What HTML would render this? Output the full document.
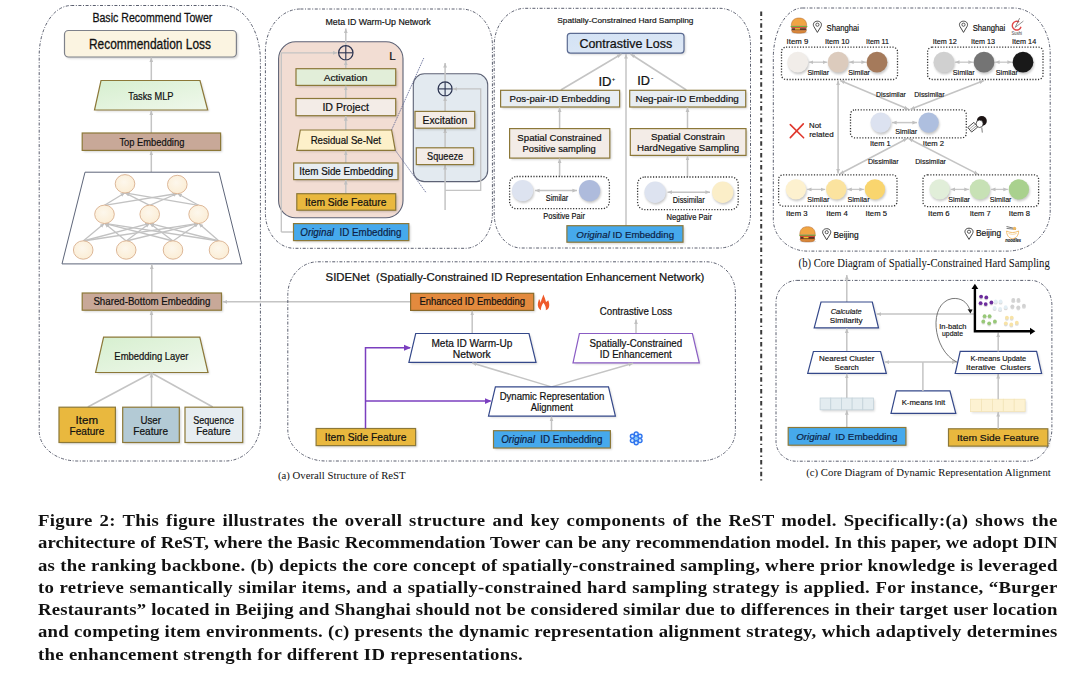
<!DOCTYPE html>
<html><head><meta charset="utf-8"><style>
html,body{margin:0;padding:0;background:#fff;width:1080px;height:678px;overflow:hidden;}
#fig{position:absolute;left:0;top:0;}
.cap{position:absolute;left:37.9px;width:1019.5px;font-family:"Liberation Serif",serif;font-weight:bold;font-size:17.3px;letter-spacing:1.0px;color:#111;text-align:justify;text-align-last:justify;white-space:nowrap;line-height:22.27px;}
.cap.last{text-align-last:left;}
</style></head><body>
<svg id="fig" width="1080" height="490" viewBox="0 0 1080 490">
<defs>
<filter id="blur" x="-20%" y="-20%" width="140%" height="140%"><feGaussianBlur stdDeviation="0.8"/></filter>
<marker id="ah" markerWidth="6" markerHeight="6" refX="4.6" refY="3" orient="auto" markerUnits="userSpaceOnUse"><path d="M0,1.1 L4.6,3 L0,4.9 Z" fill="#c0c0c0"/></marker>
<marker id="at" markerWidth="6" markerHeight="6" refX="1.4" refY="3" orient="auto" markerUnits="userSpaceOnUse"><path d="M6,1.1 L1.4,3 L6,4.9 Z" fill="#c0c0c0"/></marker>
<marker id="ap" markerWidth="8" markerHeight="8" refX="6" refY="4" orient="auto" markerUnits="userSpaceOnUse"><path d="M0,1 L7,4 L0,7 Z" fill="#7b3fbf"/></marker>
<linearGradient id="gGreen" x1="0" y1="0" x2="1" y2="1"><stop offset="0" stop-color="#d6efcf"/><stop offset="1" stop-color="#f0f8ec"/></linearGradient>
<linearGradient id="gBlue" x1="0" y1="0" x2="1" y2="1"><stop offset="0" stop-color="#d3e2f4"/><stop offset="1" stop-color="#dfe9f6"/></linearGradient>
<radialGradient id="gNode" cx="0.45" cy="0.4" r="0.7"><stop offset="0" stop-color="#fdf7ec"/><stop offset="1" stop-color="#fbecd2"/></radialGradient>
</defs>
<path d="M71.2,5.5 H223.4 A37,55 0 0 1 260.4,60.5 V423.0 A35,38 0 0 1 225.4,461.0 H77.2 A38,30 0 0 1 39.2,431.0 V55.5 A32,50 0 0 1 71.2,5.5 Z" fill="none" stroke="#5a5e6e" stroke-width="1.0" stroke-dasharray="3 1.6 1 1.6"/>
<text x="152.4" y="22.3" font-size="12.65" text-anchor="middle" fill="#111" font-family='"Liberation Sans", sans-serif' font-weight="normal" textLength="120.0" lengthAdjust="spacingAndGlyphs" stroke="#111" stroke-width="0.253" >Basic Recommend Tower</text>
<rect x="66.0" y="32.0" width="171.9" height="26.5" rx="4" fill="#000" opacity="0.18" filter="url(#blur)"/>
<rect x="64.5" y="30.5" width="171.9" height="26.5" rx="4" fill="#fbf4e1" stroke="#7e818a" stroke-width="1.2"/>
<text x="150.0" y="49.2" font-size="13.95" text-anchor="middle" fill="#111" font-family='"Liberation Sans", sans-serif' font-weight="normal" textLength="122.0" lengthAdjust="spacingAndGlyphs" stroke="#111" stroke-width="0.279" >Recommendation Loss</text>
<line x1="151.3" y1="80.5" x2="151.3" y2="57.5" stroke="#c4c4c4" stroke-width="1.5" marker-end="url(#ah)"/>
<polygon points="102.5,82.0 201.5,82.0 209.2,111.5 96.0,111.5" fill="#000" opacity="0.15" filter="url(#blur)"/>
<polygon points="101.0,80.5 200.0,80.5 207.7,110.0 94.5,110.0" fill="url(#gGreen)" stroke="#8c7838" stroke-width="1.2" stroke-linejoin="miter"/>
<text x="150.9" y="99.6" font-size="11.48" text-anchor="middle" fill="#111" font-family='"Liberation Sans", sans-serif' font-weight="normal" textLength="45.3" lengthAdjust="spacingAndGlyphs" stroke="#111" stroke-width="0.230" >Tasks MLP</text>
<line x1="151.3" y1="133.0" x2="151.3" y2="110.5" stroke="#c4c4c4" stroke-width="1.5" marker-end="url(#ah)"/>
<rect x="83.7" y="134.5" width="138.4" height="17.4" rx="0" fill="#000" opacity="0.18" filter="url(#blur)"/>
<rect x="82.2" y="133.0" width="138.4" height="17.4" rx="0" fill="#c8a898" stroke="#8c7838" stroke-width="1.2"/>
<text x="151.9" y="145.7" font-size="11.48" text-anchor="middle" fill="#111" font-family='"Liberation Sans", sans-serif' font-weight="normal" textLength="64.9" lengthAdjust="spacingAndGlyphs" stroke="#111" stroke-width="0.230" >Top Embedding</text>
<line x1="151.3" y1="172.2" x2="151.3" y2="150.8" stroke="#c4c4c4" stroke-width="1.5" marker-end="url(#ah)"/>
<polygon points="85.0,172.2 219.0,172.2 241.8,263.9 62.0,263.9" fill="#fff" stroke="#5d6579" stroke-width="1.0" stroke-linejoin="miter"/>
<line x1="83.2" y1="241.0" x2="104.5" y2="223.3" stroke="#c2c2c2" stroke-width="1.3" marker-end="url(#ah)"/>
<line x1="83.2" y1="241.0" x2="149.7" y2="223.3" stroke="#c2c2c2" stroke-width="1.3" marker-end="url(#ah)"/>
<line x1="83.2" y1="241.0" x2="198.6" y2="223.3" stroke="#c2c2c2" stroke-width="1.3" marker-end="url(#ah)"/>
<line x1="126.2" y1="241.0" x2="104.5" y2="223.3" stroke="#c2c2c2" stroke-width="1.3" marker-end="url(#ah)"/>
<line x1="126.2" y1="241.0" x2="149.7" y2="223.3" stroke="#c2c2c2" stroke-width="1.3" marker-end="url(#ah)"/>
<line x1="126.2" y1="241.0" x2="198.6" y2="223.3" stroke="#c2c2c2" stroke-width="1.3" marker-end="url(#ah)"/>
<line x1="173.0" y1="241.0" x2="104.5" y2="223.3" stroke="#c2c2c2" stroke-width="1.3" marker-end="url(#ah)"/>
<line x1="173.0" y1="241.0" x2="149.7" y2="223.3" stroke="#c2c2c2" stroke-width="1.3" marker-end="url(#ah)"/>
<line x1="173.0" y1="241.0" x2="198.6" y2="223.3" stroke="#c2c2c2" stroke-width="1.3" marker-end="url(#ah)"/>
<line x1="219.0" y1="241.0" x2="104.5" y2="223.3" stroke="#c2c2c2" stroke-width="1.3" marker-end="url(#ah)"/>
<line x1="219.0" y1="241.0" x2="149.7" y2="223.3" stroke="#c2c2c2" stroke-width="1.3" marker-end="url(#ah)"/>
<line x1="219.0" y1="241.0" x2="198.6" y2="223.3" stroke="#c2c2c2" stroke-width="1.3" marker-end="url(#ah)"/>
<line x1="104.5" y1="205.3" x2="125.0" y2="192.8" stroke="#c2c2c2" stroke-width="1.3" marker-end="url(#ah)"/>
<line x1="104.5" y1="205.3" x2="177.3" y2="193.5" stroke="#c2c2c2" stroke-width="1.3" marker-end="url(#ah)"/>
<line x1="149.7" y1="205.3" x2="125.0" y2="192.8" stroke="#c2c2c2" stroke-width="1.3" marker-end="url(#ah)"/>
<line x1="149.7" y1="205.3" x2="177.3" y2="193.5" stroke="#c2c2c2" stroke-width="1.3" marker-end="url(#ah)"/>
<line x1="198.6" y1="205.3" x2="125.0" y2="192.8" stroke="#c2c2c2" stroke-width="1.3" marker-end="url(#ah)"/>
<line x1="198.6" y1="205.3" x2="177.3" y2="193.5" stroke="#c2c2c2" stroke-width="1.3" marker-end="url(#ah)"/>
<ellipse cx="125" cy="183.8" rx="9.8" ry="9.2" fill="url(#gNode)" stroke="#d9b08e" stroke-width="0.9"/>
<ellipse cx="177.3" cy="184.5" rx="9.8" ry="9.2" fill="url(#gNode)" stroke="#d9b08e" stroke-width="0.9"/>
<ellipse cx="104.5" cy="214.3" rx="9.8" ry="9.2" fill="url(#gNode)" stroke="#d9b08e" stroke-width="0.9"/>
<ellipse cx="149.7" cy="214.3" rx="9.8" ry="9.2" fill="url(#gNode)" stroke="#d9b08e" stroke-width="0.9"/>
<ellipse cx="198.6" cy="214.3" rx="9.8" ry="9.2" fill="url(#gNode)" stroke="#d9b08e" stroke-width="0.9"/>
<ellipse cx="83.2" cy="250" rx="9.8" ry="9.2" fill="url(#gNode)" stroke="#d9b08e" stroke-width="0.9"/>
<ellipse cx="126.2" cy="250" rx="9.8" ry="9.2" fill="url(#gNode)" stroke="#d9b08e" stroke-width="0.9"/>
<ellipse cx="173" cy="250" rx="9.8" ry="9.2" fill="url(#gNode)" stroke="#d9b08e" stroke-width="0.9"/>
<ellipse cx="219" cy="250" rx="9.8" ry="9.2" fill="url(#gNode)" stroke="#d9b08e" stroke-width="0.9"/>
<line x1="151.8" y1="293.0" x2="151.8" y2="264.5" stroke="#c4c4c4" stroke-width="1.5" marker-end="url(#ah)"/>
<rect x="83.7" y="294.5" width="139.3" height="17.2" rx="0" fill="#000" opacity="0.18" filter="url(#blur)"/>
<rect x="82.2" y="293.0" width="139.3" height="17.2" rx="0" fill="#c8a898" stroke="#8c7838" stroke-width="1.2"/>
<text x="151.9" y="305.3" font-size="11.34" text-anchor="middle" fill="#111" font-family='"Liberation Sans", sans-serif' font-weight="normal" textLength="117.0" lengthAdjust="spacingAndGlyphs" stroke="#111" stroke-width="0.227" >Shared-Bottom Embedding</text>
<line x1="151.5" y1="337.0" x2="151.5" y2="310.6" stroke="#c4c4c4" stroke-width="1.5" marker-end="url(#ah)"/>
<polygon points="105.1,338.6 201.3,338.6 209.5,374.0 97.1,374.0" fill="#000" opacity="0.15" filter="url(#blur)"/>
<polygon points="103.6,337.1 199.8,337.1 208.0,372.5 95.6,372.5" fill="url(#gGreen)" stroke="#8c7838" stroke-width="1.2" stroke-linejoin="miter"/>
<text x="151.4" y="359.5" font-size="11.34" text-anchor="middle" fill="#111" font-family='"Liberation Sans", sans-serif' font-weight="normal" textLength="74.1" lengthAdjust="spacingAndGlyphs" stroke="#111" stroke-width="0.227" >Embedding Layer</text>
<line x1="87.8" y1="407.0" x2="151.5" y2="373.0" stroke="#c4c4c4" stroke-width="1.5"/>
<line x1="151.5" y1="407.0" x2="151.5" y2="373.0" stroke="#c4c4c4" stroke-width="1.5" marker-end="url(#ah)"/>
<line x1="212.8" y1="407.0" x2="151.5" y2="373.0" stroke="#c4c4c4" stroke-width="1.5"/>
<rect x="60.5" y="408.7" width="56.4" height="35.3" rx="0" fill="#000" opacity="0.18" filter="url(#blur)"/>
<rect x="59.0" y="407.2" width="56.4" height="35.3" rx="0" fill="#e9b83e" stroke="#8c7838" stroke-width="1.2"/>
<rect x="124.2" y="408.7" width="56.6" height="35.3" rx="0" fill="#000" opacity="0.18" filter="url(#blur)"/>
<rect x="122.7" y="407.2" width="56.6" height="35.3" rx="0" fill="#b3cad5" stroke="#8c7838" stroke-width="1.2"/>
<rect x="186.5" y="408.7" width="57.7" height="35.3" rx="0" fill="#000" opacity="0.18" filter="url(#blur)"/>
<rect x="185.0" y="407.2" width="57.7" height="35.3" rx="0" fill="#e7edf1" stroke="#8c7838" stroke-width="1.2"/>
<text x="86.8" y="423.7" font-size="10.90" text-anchor="middle" fill="#111" font-family='"Liberation Sans", sans-serif' font-weight="normal" textLength="22.5" lengthAdjust="spacingAndGlyphs" stroke="#111" stroke-width="0.218" >Item</text>
<text x="86.9" y="435.0" font-size="10.76" text-anchor="middle" fill="#111" font-family='"Liberation Sans", sans-serif' font-weight="normal" textLength="34.7" lengthAdjust="spacingAndGlyphs" stroke="#111" stroke-width="0.215" >Feature</text>
<text x="150.7" y="423.7" font-size="10.90" text-anchor="middle" fill="#111" font-family='"Liberation Sans", sans-serif' font-weight="normal" textLength="20.5" lengthAdjust="spacingAndGlyphs" stroke="#111" stroke-width="0.218" >User</text>
<text x="150.7" y="435.0" font-size="10.76" text-anchor="middle" fill="#111" font-family='"Liberation Sans", sans-serif' font-weight="normal" textLength="34.7" lengthAdjust="spacingAndGlyphs" stroke="#111" stroke-width="0.215" >Feature</text>
<text x="213.6" y="423.7" font-size="10.90" text-anchor="middle" fill="#111" font-family='"Liberation Sans", sans-serif' font-weight="normal" textLength="40.8" lengthAdjust="spacingAndGlyphs" stroke="#111" stroke-width="0.218" >Sequence</text>
<text x="213.4" y="435.0" font-size="10.76" text-anchor="middle" fill="#111" font-family='"Liberation Sans", sans-serif' font-weight="normal" textLength="34.2" lengthAdjust="spacingAndGlyphs" stroke="#111" stroke-width="0.215" >Feature</text>
<line x1="410.6" y1="301.8" x2="222.5" y2="301.8" stroke="#c4c4c4" stroke-width="1.5" marker-end="url(#ah)"/>
<path d="M300.4,9.0 H461.4 A31,36 0 0 1 492.4,45.0 V213.3 A27,35 0 0 1 465.4,248.3 H294.4 A29,35 0 0 1 265.4,213.3 V51.0 A35,42 0 0 1 300.4,9.0 Z" fill="none" stroke="#5a5e6e" stroke-width="1.0" stroke-dasharray="3 1.6 1 1.6"/>
<text x="378.1" y="24.8" font-size="8.72" text-anchor="middle" fill="#111" font-family='"Liberation Sans", sans-serif' font-weight="normal" textLength="105.1" lengthAdjust="spacingAndGlyphs" stroke="#111" stroke-width="0.174" >Meta ID Warm-Up Network</text>
<rect x="278.6" y="41.8" width="124.4" height="176" rx="17" fill="#f2ddd3" stroke="#5d6275" stroke-width="1.1"/>
<line x1="345.8" y1="45.5" x2="345.8" y2="28.5" stroke="#c4c4c4" stroke-width="1.5" marker-end="url(#ah)"/>
<circle cx="345.8" cy="52.8" r="7.2" fill="none" stroke="#2b3350" stroke-width="1.2"/>
<line x1="338.6" y1="52.8" x2="353.0" y2="52.8" stroke="#2b3350" stroke-width="1.1"/>
<line x1="345.8" y1="45.599999999999994" x2="345.8" y2="60.0" stroke="#2b3350" stroke-width="1.1"/>
<path d="M281.3,232 L281.3,52.8 L337.5,52.8" stroke="#c4c4c4" stroke-width="1.3" fill="none" marker-end="url(#ah)" />
<text x="392.5" y="60.0" font-size="11.50" text-anchor="middle" fill="#111" font-family='"Liberation Sans", sans-serif' font-weight="normal" stroke="#111" stroke-width="0.230" >L</text>
<line x1="345.8" y1="68.7" x2="345.8" y2="60.5" stroke="#c4c4c4" stroke-width="1.5" marker-end="url(#ah)"/>
<rect x="297.5" y="70.2" width="99.7" height="16.7" rx="0" fill="#000" opacity="0.18" filter="url(#blur)"/>
<rect x="296.0" y="68.7" width="99.7" height="16.7" rx="0" fill="#e2eed9" stroke="#8c7838" stroke-width="1.2"/>
<text x="345.6" y="80.6" font-size="9.74" text-anchor="middle" fill="#111" font-family='"Liberation Sans", sans-serif' font-weight="normal" textLength="43.8" lengthAdjust="spacingAndGlyphs" stroke="#111" stroke-width="0.195" >Activation</text>
<line x1="345.8" y1="98.5" x2="345.8" y2="85.8" stroke="#c4c4c4" stroke-width="1.5" marker-end="url(#ah)"/>
<rect x="297.5" y="100.0" width="99.7" height="17.2" rx="0" fill="#000" opacity="0.18" filter="url(#blur)"/>
<rect x="296.0" y="98.5" width="99.7" height="17.2" rx="0" fill="#f3ece7" stroke="#8c7838" stroke-width="1.2"/>
<text x="345.7" y="110.9" font-size="10.61" text-anchor="middle" fill="#111" font-family='"Liberation Sans", sans-serif' font-weight="normal" textLength="46.6" lengthAdjust="spacingAndGlyphs" stroke="#111" stroke-width="0.212" >ID Project</text>
<line x1="345.8" y1="130.0" x2="345.8" y2="116.1" stroke="#c4c4c4" stroke-width="1.5" marker-end="url(#ah)"/>
<polygon points="301.8,131.5 393.1,131.5 396.8,151.8 298.3,151.8" fill="#000" opacity="0.15" filter="url(#blur)"/>
<polygon points="300.3,130.0 391.6,130.0 395.3,150.3 296.8,150.3" fill="#fdf0c9" stroke="#8c7838" stroke-width="1.2" stroke-linejoin="miter"/>
<text x="345.8" y="144.1" font-size="11.19" text-anchor="middle" fill="#111" font-family='"Liberation Sans", sans-serif' font-weight="normal" textLength="70.3" lengthAdjust="spacingAndGlyphs" stroke="#111" stroke-width="0.224" >Residual Se-Net</text>
<line x1="345.8" y1="163.0" x2="345.8" y2="150.7" stroke="#c4c4c4" stroke-width="1.5" marker-end="url(#ah)"/>
<rect x="295.2" y="164.5" width="104.3" height="16.6" rx="0" fill="#000" opacity="0.18" filter="url(#blur)"/>
<rect x="293.7" y="163.0" width="104.3" height="16.6" rx="0" fill="#e8edf1" stroke="#8c7838" stroke-width="1.2"/>
<text x="346.3" y="175.1" font-size="10.47" text-anchor="middle" fill="#111" font-family='"Liberation Sans", sans-serif' font-weight="normal" textLength="94.0" lengthAdjust="spacingAndGlyphs" stroke="#111" stroke-width="0.209" >Item Side Embedding</text>
<line x1="345.8" y1="193.7" x2="345.8" y2="180.0" stroke="#c4c4c4" stroke-width="1.5" marker-end="url(#ah)"/>
<rect x="298.3" y="195.2" width="98.9" height="16.5" rx="0" fill="#000" opacity="0.18" filter="url(#blur)"/>
<rect x="296.8" y="193.7" width="98.9" height="16.5" rx="0" fill="#e9b83e" stroke="#8c7838" stroke-width="1.2"/>
<text x="345.7" y="205.5" font-size="10.32" text-anchor="middle" fill="#111" font-family='"Liberation Sans", sans-serif' font-weight="normal" textLength="81.4" lengthAdjust="spacingAndGlyphs" stroke="#111" stroke-width="0.206" >Item Side Feature</text>
<line x1="281.3" y1="232.0" x2="293.5" y2="232.0" stroke="#c4c4c4" stroke-width="1.5"/>
<rect x="295.0" y="225.1" width="115.3" height="17.0" rx="0" fill="#000" opacity="0.18" filter="url(#blur)"/>
<rect x="293.5" y="223.6" width="115.3" height="17.0" rx="0" fill="#46a9ec" stroke="#8c7838" stroke-width="1.2"/>
<text x="350.9" y="236.0" font-size="10.47" text-anchor="middle" fill="#0d1f46" font-family='"Liberation Sans", sans-serif' font-weight="normal" textLength="101.2" lengthAdjust="spacingAndGlyphs" stroke="#0d1f46" stroke-width="0.209" ><tspan font-style="italic">Original</tspan>&#160;&#160;ID Embedding</text>
<line x1="391.6" y1="130.0" x2="423.8" y2="58.0" stroke="#5a6290" stroke-width="0.8" stroke-dasharray="1.6 0.9"/>
<line x1="395.3" y1="150.3" x2="426.3" y2="192.9" stroke="#5a6290" stroke-width="0.8" stroke-dasharray="1.6 0.9"/>
<rect x="413.3" y="73.8" width="74.4" height="107.8" rx="11" fill="#e3eaf0" stroke="#5d6275" stroke-width="1.1"/>
<line x1="445.1" y1="81.5" x2="445.1" y2="63.0" stroke="#c4c4c4" stroke-width="1.5" marker-end="url(#ah)"/>
<circle cx="445.1" cy="88.9" r="7" fill="none" stroke="#2b3350" stroke-width="1.2"/>
<line x1="438.1" y1="88.9" x2="452.1" y2="88.9" stroke="#2b3350" stroke-width="1.1"/>
<line x1="445.1" y1="81.9" x2="445.1" y2="95.9" stroke="#2b3350" stroke-width="1.1"/>
<path d="M445.1,190.4 L480.7,190.4 L480.7,88.9 L452.8,88.9" stroke="#c4c4c4" stroke-width="1.3" fill="none" marker-end="url(#ah)" />
<line x1="445.1" y1="210.0" x2="445.1" y2="165.0" stroke="#c4c4c4" stroke-width="1.5" marker-end="url(#ah)"/>
<line x1="445.1" y1="147.8" x2="445.1" y2="128.6" stroke="#c4c4c4" stroke-width="1.5" marker-end="url(#ah)"/>
<line x1="445.1" y1="111.4" x2="445.1" y2="96.5" stroke="#c4c4c4" stroke-width="1.5" marker-end="url(#ah)"/>
<rect x="416.5" y="112.9" width="59.7" height="16.8" rx="0" fill="#000" opacity="0.18" filter="url(#blur)"/>
<rect x="415.0" y="111.4" width="59.7" height="16.8" rx="0" fill="#f3ece7" stroke="#8c7838" stroke-width="1.2"/>
<text x="444.9" y="123.5" font-size="11.34" text-anchor="middle" fill="#111" font-family='"Liberation Sans", sans-serif' font-weight="normal" textLength="44.6" lengthAdjust="spacingAndGlyphs" stroke="#111" stroke-width="0.227" >Excitation</text>
<rect x="417.8" y="149.3" width="57.2" height="16.8" rx="0" fill="#000" opacity="0.18" filter="url(#blur)"/>
<rect x="416.3" y="147.8" width="57.2" height="16.8" rx="0" fill="#f3ece7" stroke="#8c7838" stroke-width="1.2"/>
<text x="445.1" y="159.8" font-size="10.90" text-anchor="middle" fill="#111" font-family='"Liberation Sans", sans-serif' font-weight="normal" textLength="36.1" lengthAdjust="spacingAndGlyphs" stroke="#111" stroke-width="0.218" >Squeeze</text>
<path d="M525.2,8.3 H719.5 A31,36 0 0 1 750.5,44.3 V214.0 A31,34 0 0 1 719.5,248.0 H521.2 A27,34 0 0 1 494.2,214.0 V45.3 A31,37 0 0 1 525.2,8.3 Z" fill="none" stroke="#5a5e6e" stroke-width="1.0" stroke-dasharray="3 1.6 1 1.6"/>
<text x="625.4" y="22.8" font-size="7.85" text-anchor="middle" fill="#111" font-family='"Liberation Sans", sans-serif' font-weight="normal" textLength="136.2" lengthAdjust="spacingAndGlyphs" stroke="#111" stroke-width="0.157" >Spatially-Constrained Hard Sampling</text>
<rect x="568.8" y="34.8" width="116.7" height="19.8" rx="3" fill="#000" opacity="0.18" filter="url(#blur)"/>
<rect x="567.3" y="33.3" width="116.7" height="19.8" rx="3" fill="url(#gBlue)" stroke="#5b6b92" stroke-width="1.2"/>
<text x="625.8" y="47.8" font-size="12.35" text-anchor="middle" fill="#111" font-family='"Liberation Sans", sans-serif' font-weight="normal" textLength="92.8" lengthAdjust="spacingAndGlyphs" stroke="#111" stroke-width="0.247" >Contrastive Loss</text>
<line x1="560.8" y1="90.0" x2="621.5" y2="54.0" stroke="#c4c4c4" stroke-width="1.5" marker-end="url(#ah)"/>
<line x1="686.4" y1="90.0" x2="630.5" y2="54.0" stroke="#c4c4c4" stroke-width="1.5" marker-end="url(#ah)"/>
<line x1="626.0" y1="225.7" x2="626.0" y2="54.0" stroke="#c4c4c4" stroke-width="1.5" marker-end="url(#ah)"/>
<text x="604.9" y="85.6" font-size="12.21" text-anchor="middle" fill="#111" font-family='"Liberation Sans", sans-serif' font-weight="normal" textLength="13.0" lengthAdjust="spacingAndGlyphs" stroke="#111" stroke-width="0.244" >ID</text>
<text x="613.4" y="81.0" font-size="6.00" text-anchor="middle" fill="#111" font-family='"Liberation Sans", sans-serif' font-weight="normal" stroke="#111" stroke-width="0.120" >+</text>
<text x="643.6" y="84.8" font-size="11.92" text-anchor="middle" fill="#111" font-family='"Liberation Sans", sans-serif' font-weight="normal" textLength="12.7" lengthAdjust="spacingAndGlyphs" stroke="#111" stroke-width="0.238" >ID</text>
<text x="652.2" y="80.0" font-size="7.00" text-anchor="middle" fill="#111" font-family='"Liberation Sans", sans-serif' font-weight="normal" stroke="#111" stroke-width="0.140" >-</text>
<rect x="502.1" y="91.8" width="119.0" height="16.7" rx="0" fill="#000" opacity="0.18" filter="url(#blur)"/>
<rect x="500.6" y="90.3" width="119.0" height="16.7" rx="0" fill="#e8edf1" stroke="#8c7838" stroke-width="1.2"/>
<text x="559.8" y="101.8" font-size="9.01" text-anchor="middle" fill="#111" font-family='"Liberation Sans", sans-serif' font-weight="normal" textLength="100.5" lengthAdjust="spacingAndGlyphs" stroke="#111" stroke-width="0.180" >Pos-pair-ID Embedding</text>
<rect x="631.2" y="91.8" width="116.0" height="16.7" rx="0" fill="#000" opacity="0.18" filter="url(#blur)"/>
<rect x="629.7" y="90.3" width="116.0" height="16.7" rx="0" fill="#e8edf1" stroke="#8c7838" stroke-width="1.2"/>
<text x="687.2" y="101.8" font-size="9.01" text-anchor="middle" fill="#111" font-family='"Liberation Sans", sans-serif' font-weight="normal" textLength="103.3" lengthAdjust="spacingAndGlyphs" stroke="#111" stroke-width="0.180" >Neg-pair-ID Embedding</text>
<line x1="559.6" y1="128.6" x2="559.6" y2="107.4" stroke="#c4c4c4" stroke-width="1.5" marker-end="url(#ah)"/>
<line x1="687.5" y1="128.6" x2="687.5" y2="107.4" stroke="#c4c4c4" stroke-width="1.5" marker-end="url(#ah)"/>
<rect x="511.1" y="130.1" width="100.2" height="29.5" rx="0" fill="#000" opacity="0.18" filter="url(#blur)"/>
<rect x="509.6" y="128.6" width="100.2" height="29.5" rx="0" fill="#f3ece7" stroke="#8c7838" stroke-width="1.2"/>
<text x="559.5" y="141.0" font-size="9.80" text-anchor="middle" fill="#111" font-family='"Liberation Sans", sans-serif' font-weight="normal" textLength="84.3" lengthAdjust="spacingAndGlyphs" stroke="#111" stroke-width="0.196" >Spatial Constrained</text>
<text x="559.2" y="152.0" font-size="9.80" text-anchor="middle" fill="#111" font-family='"Liberation Sans", sans-serif' font-weight="normal" textLength="73.2" lengthAdjust="spacingAndGlyphs" stroke="#111" stroke-width="0.196" >Positive sampling</text>
<rect x="631.8" y="130.1" width="115.7" height="26.8" rx="0" fill="#000" opacity="0.18" filter="url(#blur)"/>
<rect x="630.3" y="128.6" width="115.7" height="26.8" rx="0" fill="#f3ece7" stroke="#8c7838" stroke-width="1.2"/>
<text x="688.0" y="140.0" font-size="9.90" text-anchor="middle" fill="#111" font-family='"Liberation Sans", sans-serif' font-weight="normal" textLength="74.0" lengthAdjust="spacingAndGlyphs" stroke="#111" stroke-width="0.198" >Spatial Constrain</text>
<text x="688.1" y="151.3" font-size="9.90" text-anchor="middle" fill="#111" font-family='"Liberation Sans", sans-serif' font-weight="normal" textLength="102.2" lengthAdjust="spacingAndGlyphs" stroke="#111" stroke-width="0.198" >HardNegative Sampling</text>
<line x1="559.6" y1="176.5" x2="559.6" y2="158.5" stroke="#c4c4c4" stroke-width="1.5" marker-end="url(#ah)"/>
<line x1="687.5" y1="177.0" x2="687.5" y2="155.8" stroke="#c4c4c4" stroke-width="1.5" marker-end="url(#ah)"/>
<rect x="509.6" y="176.5" width="99.8" height="32.2" rx="7" fill="none" stroke="#333" stroke-width="1.3" stroke-dasharray="1.2 1.6"/>
<rect x="637.6" y="177.0" width="100.6" height="32.6" rx="7" fill="none" stroke="#333" stroke-width="1.3" stroke-dasharray="1.2 1.6"/>
<circle cx="523.4" cy="192.2" r="10.7" fill="#000" opacity="0.22" filter="url(#blur)"/>
<circle cx="522.6" cy="190.6" r="10.7" fill="#dde3f0"/>
<circle cx="590.4" cy="192.2" r="10.7" fill="#000" opacity="0.22" filter="url(#blur)"/>
<circle cx="589.6" cy="190.6" r="10.7" fill="#aebbdc"/>
<line x1="535.0" y1="190.6" x2="577.0" y2="190.6" stroke="#c4c4c4" stroke-width="1.5" marker-end="url(#ah)" marker-start="url(#at)"/>
<text x="557.0" y="200.9" font-size="8.14" text-anchor="middle" fill="#111" font-family='"Liberation Sans", sans-serif' font-weight="normal" textLength="22.3" lengthAdjust="spacingAndGlyphs" stroke="#111" stroke-width="0.163" >Similar</text>
<text x="564.1" y="218.5" font-size="9.01" text-anchor="middle" fill="#111" font-family='"Liberation Sans", sans-serif' font-weight="normal" textLength="41.7" lengthAdjust="spacingAndGlyphs" stroke="#111" stroke-width="0.180" >Positive Pair</text>
<circle cx="655.9" cy="193.8" r="10.7" fill="#000" opacity="0.22" filter="url(#blur)"/>
<circle cx="655.1" cy="192.2" r="10.7" fill="#dde3f0"/>
<circle cx="723.5" cy="193.8" r="10.7" fill="#000" opacity="0.22" filter="url(#blur)"/>
<circle cx="722.7" cy="192.2" r="10.7" fill="#fbeec8"/>
<line x1="667.5" y1="192.2" x2="710.0" y2="192.2" stroke="#c4c4c4" stroke-width="1.5" marker-end="url(#ah)" marker-start="url(#at)"/>
<text x="688.7" y="202.6" font-size="8.43" text-anchor="middle" fill="#111" font-family='"Liberation Sans", sans-serif' font-weight="normal" textLength="32.0" lengthAdjust="spacingAndGlyphs" stroke="#111" stroke-width="0.169" >Dissimilar</text>
<text x="689.2" y="219.5" font-size="9.01" text-anchor="middle" fill="#111" font-family='"Liberation Sans", sans-serif' font-weight="normal" textLength="45.5" lengthAdjust="spacingAndGlyphs" stroke="#111" stroke-width="0.180" >Negative Pair</text>
<rect x="568.4" y="227.2" width="116.1" height="16.5" rx="0" fill="#000" opacity="0.18" filter="url(#blur)"/>
<rect x="566.9" y="225.7" width="116.1" height="16.5" rx="0" fill="#46a9ec" stroke="#8c7838" stroke-width="1.2"/>
<text x="625.2" y="237.7" font-size="9.88" text-anchor="middle" fill="#0d1f46" font-family='"Liberation Sans", sans-serif' font-weight="normal" textLength="97.7" lengthAdjust="spacingAndGlyphs" stroke="#0d1f46" stroke-width="0.198" ><tspan font-style="italic">Original</tspan> ID Embedding</text>
<path d="M317.8,261.8 H706.4 A29,31 0 0 1 735.4,292.8 V431.0 A35,30 0 0 1 700.4,461.0 H325.8 A38,31 0 0 1 287.8,430.0 V294.8 A30,33 0 0 1 317.8,261.8 Z" fill="none" stroke="#5a5e6e" stroke-width="1.0" stroke-dasharray="3 1.6 1 1.6"/>
<text x="515.0" y="281.0" font-size="11.34" text-anchor="middle" fill="#111" font-family='"Liberation Sans", sans-serif' font-weight="normal" textLength="378.8" lengthAdjust="spacingAndGlyphs" stroke="#111" stroke-width="0.227" >SIDENet&#160;&#160;(Spatially-Constrained ID Representation Enhancement Network)</text>
<rect x="412.1" y="294.8" width="123.1" height="17.1" rx="0" fill="#000" opacity="0.18" filter="url(#blur)"/>
<rect x="410.6" y="293.3" width="123.1" height="17.1" rx="0" fill="#e38a3e" stroke="#8a6a2a" stroke-width="1.2"/>
<text x="472.2" y="305.4" font-size="10.76" text-anchor="middle" fill="#111" font-family='"Liberation Sans", sans-serif' font-weight="normal" textLength="105.6" lengthAdjust="spacingAndGlyphs" stroke="#111" stroke-width="0.215" >Enhanced ID Embedding</text>
<line x1="472.2" y1="333.5" x2="472.2" y2="310.8" stroke="#c4c4c4" stroke-width="1.5" marker-end="url(#ah)"/>
<polygon points="417.2,335.0 530.5,335.0 537.5,363.9 410.4,363.9" fill="#000" opacity="0.15" filter="url(#blur)"/>
<polygon points="415.7,333.5 529.0,333.5 536.0,362.4 408.9,362.4" fill="#fff" stroke="#34488a" stroke-width="1.2" stroke-linejoin="miter"/>
<text x="471.9" y="347.0" font-size="10.40" text-anchor="middle" fill="#111" font-family='"Liberation Sans", sans-serif' font-weight="normal" textLength="80.9" lengthAdjust="spacingAndGlyphs" stroke="#111" stroke-width="0.208" >Meta ID Warm-Up</text>
<text x="471.8" y="357.6" font-size="10.40" text-anchor="middle" fill="#111" font-family='"Liberation Sans", sans-serif' font-weight="normal" textLength="37.9" lengthAdjust="spacingAndGlyphs" stroke="#111" stroke-width="0.208" >Network</text>
<text x="635.9" y="315.2" font-size="11.63" text-anchor="middle" fill="#111" font-family='"Liberation Sans", sans-serif' font-weight="normal" textLength="72.2" lengthAdjust="spacingAndGlyphs" stroke="#111" stroke-width="0.233" >Contrastive Loss</text>
<line x1="636.0" y1="333.5" x2="636.0" y2="319.6" stroke="#c4c4c4" stroke-width="1.5" marker-end="url(#ah)"/>
<polygon points="580.9,335.0 693.9,335.0 700.8,364.3 574.5,364.3" fill="#000" opacity="0.15" filter="url(#blur)"/>
<polygon points="579.4,333.5 692.4,333.5 699.3,362.8 573.0,362.8" fill="#fff" stroke="#8a5cc4" stroke-width="1.2" stroke-linejoin="miter"/>
<text x="635.9" y="347.0" font-size="10.20" text-anchor="middle" fill="#111" font-family='"Liberation Sans", sans-serif' font-weight="normal" textLength="92.6" lengthAdjust="spacingAndGlyphs" stroke="#111" stroke-width="0.204" >Spatially-Constrained</text>
<text x="635.8" y="357.8" font-size="10.20" text-anchor="middle" fill="#111" font-family='"Liberation Sans", sans-serif' font-weight="normal" textLength="71.9" lengthAdjust="spacingAndGlyphs" stroke="#111" stroke-width="0.204" >ID Enhancement</text>
<line x1="551.5" y1="386.9" x2="472.2" y2="363.0" stroke="#c4c4c4" stroke-width="1.5" marker-end="url(#ah)"/>
<line x1="551.5" y1="386.9" x2="633.1" y2="363.3" stroke="#c4c4c4" stroke-width="1.5" marker-end="url(#ah)"/>
<polygon points="496.9,388.4 610.0,388.4 616.9,417.6 490.0,417.6" fill="#000" opacity="0.15" filter="url(#blur)"/>
<polygon points="495.4,386.9 608.5,386.9 615.4,416.1 488.5,416.1" fill="#fff" stroke="#34488a" stroke-width="1.2" stroke-linejoin="miter"/>
<text x="552.0" y="400.4" font-size="10.10" text-anchor="middle" fill="#111" font-family='"Liberation Sans", sans-serif' font-weight="normal" textLength="104.7" lengthAdjust="spacingAndGlyphs" stroke="#111" stroke-width="0.202" >Dynamic Representation</text>
<text x="551.8" y="410.9" font-size="10.10" text-anchor="middle" fill="#111" font-family='"Liberation Sans", sans-serif' font-weight="normal" textLength="42.1" lengthAdjust="spacingAndGlyphs" stroke="#111" stroke-width="0.202" >Alignment</text>
<line x1="551.5" y1="430.7" x2="551.5" y2="416.6" stroke="#c4c4c4" stroke-width="1.5" marker-end="url(#ah)"/>
<rect x="495.0" y="432.2" width="116.9" height="17.3" rx="0" fill="#000" opacity="0.18" filter="url(#blur)"/>
<rect x="493.5" y="430.7" width="116.9" height="17.3" rx="0" fill="#46a9ec" stroke="#8c7838" stroke-width="1.2"/>
<text x="551.8" y="443.0" font-size="10.32" text-anchor="middle" fill="#0d1f46" font-family='"Liberation Sans", sans-serif' font-weight="normal" textLength="101.3" lengthAdjust="spacingAndGlyphs" stroke="#0d1f46" stroke-width="0.206" ><tspan font-style="italic">Original</tspan>&#160;&#160;ID Embedding</text>
<rect x="317.6" y="430.0" width="99.5" height="17.1" rx="0" fill="#000" opacity="0.18" filter="url(#blur)"/>
<rect x="316.1" y="428.5" width="99.5" height="17.1" rx="0" fill="#e9b83e" stroke="#8c7838" stroke-width="1.2"/>
<text x="365.6" y="440.6" font-size="10.03" text-anchor="middle" fill="#111" font-family='"Liberation Sans", sans-serif' font-weight="normal" textLength="81.5" lengthAdjust="spacingAndGlyphs" stroke="#111" stroke-width="0.201" >Item Side Feature</text>
<path d="M365.5,428.5 L365.5,347.8 L410,347.8" stroke="#7b3fbf" stroke-width="1.5" fill="none" marker-end="url(#ap)"/>
<path d="M365.5,401.1 L490.5,401.1" stroke="#7b3fbf" stroke-width="1.5" fill="none" marker-end="url(#ap)"/>
<path d="M541,310.3 C538.5,309 537.6,306.5 537.8,304 C538,301.8 538.8,300.5 539,299 C540,300.5 540.4,301.8 540.6,303 C541,300 542.6,297.5 543.3,294.4 C544.5,297 545.5,299.5 546,302 C546.8,301.5 547.6,301 548.2,300.3 C549.2,302.5 549.6,305 549,307 C548.5,308.8 547,309.8 545.8,310.3 C546.2,308 545.5,305.5 543.4,302.8 C541.5,305.5 540.8,308 541,310.3 Z" fill="#ef5a2a"/>
<g><circle cx="636.2" cy="438.4" r="3.2" fill="#86c8f8"/><circle cx="636.20" cy="434.00" r="2.0" fill="#d8eefe" stroke="#2f74ee" stroke-width="1.4"/><circle cx="640.01" cy="436.20" r="2.0" fill="#d8eefe" stroke="#2f74ee" stroke-width="1.4"/><circle cx="640.01" cy="440.60" r="2.0" fill="#d8eefe" stroke="#2f74ee" stroke-width="1.4"/><circle cx="636.20" cy="442.80" r="2.0" fill="#d8eefe" stroke="#2f74ee" stroke-width="1.4"/><circle cx="632.39" cy="440.60" r="2.0" fill="#d8eefe" stroke="#2f74ee" stroke-width="1.4"/><circle cx="632.39" cy="436.20" r="2.0" fill="#d8eefe" stroke="#2f74ee" stroke-width="1.4"/></g>
<line x1="761.2" y1="11.5" x2="761.2" y2="481.0" stroke="#3a3a3a" stroke-width="2.0" stroke-dasharray="4.5 3 1.3 3"/>
<path d="M802.3,8.0 H1013.2 A37,46 0 0 1 1050.2,54.0 V211.1 A43,40 0 0 1 1007.2,251.1 H807.3 A34,32 0 0 1 773.3,219.1 V58.0 A29,50 0 0 1 802.3,8.0 Z" fill="none" stroke="#5a5e6e" stroke-width="1.0" stroke-dasharray="3 1.6 1 1.6"/>
<g transform="translate(790.1,17.8) scale(0.9888888888888864,0.9999999999999998)"><ellipse cx="9.4" cy="15" rx="8.5" ry="1" fill="#000" opacity="0.12"/><path d="M1.2,8 C1.2,2.5 4.5,0.2 9,0.2 C13.5,0.2 16.8,2.5 16.8,8 Z" fill="#f0a544" stroke="#b0642a" stroke-width="0.5"/><path d="M0.3,8.2 L17.7,8.2 L17,9.6 L1,9.6 Z" fill="#74b040"/><rect x="1.3" y="9.3" width="15.4" height="1.3" fill="#d8443a"/><rect x="1.4" y="10.4" width="15.2" height="2.2" rx="1" fill="#5a3220"/><rect x="5" y="10.3" width="5" height="1.5" fill="#f2c030"/><path d="M1.5,12.4 L16.5,12.4 C16.5,14.8 14,15.4 9,15.4 C4,15.4 1.5,14.8 1.5,12.4 Z" fill="#d9873a" stroke="#a0582a" stroke-width="0.4"/></g>
<g transform="translate(817.4,20.8) scale(1.0)"><path d="M0,11.6 L-3.6,5.6 C-4.8,3.4 -3.6,0.4 0,0.4 C3.6,0.4 4.8,3.4 3.6,5.6 Z" fill="none" stroke="#333" stroke-width="0.9" stroke-linejoin="round"/><circle cx="0" cy="3.9" r="1.6" fill="none" stroke="#333" stroke-width="0.8"/></g>
<text x="842.8" y="30.7" font-size="9.16" text-anchor="middle" fill="#111" font-family='"Liberation Sans", sans-serif' font-weight="normal" textLength="32.4" lengthAdjust="spacingAndGlyphs" stroke="#111" stroke-width="0.183" >Shanghai</text>
<g transform="translate(963.5,20.8) scale(1.0)"><path d="M0,11.6 L-3.6,5.6 C-4.8,3.4 -3.6,0.4 0,0.4 C3.6,0.4 4.8,3.4 3.6,5.6 Z" fill="none" stroke="#333" stroke-width="0.9" stroke-linejoin="round"/><circle cx="0" cy="3.9" r="1.6" fill="none" stroke="#333" stroke-width="0.8"/></g>
<text x="989.0" y="30.7" font-size="9.16" text-anchor="middle" fill="#111" font-family='"Liberation Sans", sans-serif' font-weight="normal" textLength="32.6" lengthAdjust="spacingAndGlyphs" stroke="#111" stroke-width="0.183" >Shanghai</text>
<path d="M1019.2,22.0 A4.4,4.4 0 1,0 1021.0,26.8" fill="none" stroke="#e04848" stroke-width="1.4"/>
<line x1="1015.2" y1="27.5" x2="1019.6" y2="18.2" stroke="#555" stroke-width="0.7"/>
<line x1="1015.5" y1="27.2" x2="1023.4" y2="21.1" stroke="#666" stroke-width="0.7"/>
<text x="1016.8" y="34.6" font-size="4.60" text-anchor="middle" fill="#666" font-family='"Liberation Sans", sans-serif' font-weight="normal" textLength="10.5" lengthAdjust="spacingAndGlyphs" stroke="#666" stroke-width="0.092" >Sushi</text>
<text x="797.4" y="44.2" font-size="7.85" text-anchor="middle" fill="#111" font-family='"Liberation Sans", sans-serif' font-weight="normal" textLength="21.7" lengthAdjust="spacingAndGlyphs" stroke="#111" stroke-width="0.157" >Item 9</text>
<text x="837.2" y="44.2" font-size="7.85" text-anchor="middle" fill="#111" font-family='"Liberation Sans", sans-serif' font-weight="normal" textLength="24.5" lengthAdjust="spacingAndGlyphs" stroke="#111" stroke-width="0.157" >Item 10</text>
<text x="877.4" y="44.2" font-size="7.85" text-anchor="middle" fill="#111" font-family='"Liberation Sans", sans-serif' font-weight="normal" textLength="22.8" lengthAdjust="spacingAndGlyphs" stroke="#111" stroke-width="0.157" >Item 11</text>
<text x="944.8" y="44.2" font-size="7.85" text-anchor="middle" fill="#111" font-family='"Liberation Sans", sans-serif' font-weight="normal" textLength="24.1" lengthAdjust="spacingAndGlyphs" stroke="#111" stroke-width="0.157" >Item 12</text>
<text x="983.0" y="44.2" font-size="7.85" text-anchor="middle" fill="#111" font-family='"Liberation Sans", sans-serif' font-weight="normal" textLength="23.9" lengthAdjust="spacingAndGlyphs" stroke="#111" stroke-width="0.157" >Item 13</text>
<text x="1024.1" y="44.2" font-size="7.85" text-anchor="middle" fill="#111" font-family='"Liberation Sans", sans-serif' font-weight="normal" textLength="24.2" lengthAdjust="spacingAndGlyphs" stroke="#111" stroke-width="0.157" >Item 14</text>
<rect x="781.5" y="47.2" width="116.0" height="32.3" rx="4.5" fill="none" stroke="#333" stroke-width="1.3" stroke-dasharray="1.2 1.6"/>
<rect x="927.6" y="47.2" width="115.4" height="32.3" rx="4.5" fill="none" stroke="#333" stroke-width="1.3" stroke-dasharray="1.2 1.6"/>
<circle cx="798.6" cy="63.8" r="10.4" fill="#000" opacity="0.22" filter="url(#blur)"/>
<circle cx="797.8" cy="62.2" r="10.4" fill="#f1ede9"/>
<circle cx="838.9" cy="63.8" r="10.4" fill="#000" opacity="0.22" filter="url(#blur)"/>
<circle cx="838.1" cy="62.2" r="10.4" fill="#dccbbd"/>
<circle cx="877.8" cy="63.8" r="10.4" fill="#000" opacity="0.22" filter="url(#blur)"/>
<circle cx="877.0" cy="62.2" r="10.4" fill="#a57a5b"/>
<circle cx="944.7" cy="63.8" r="10.4" fill="#000" opacity="0.22" filter="url(#blur)"/>
<circle cx="943.9" cy="62.2" r="10.4" fill="#d0d0d0"/>
<circle cx="984.8" cy="63.8" r="10.4" fill="#000" opacity="0.22" filter="url(#blur)"/>
<circle cx="984.0" cy="62.2" r="10.4" fill="#747474"/>
<circle cx="1023.8" cy="63.8" r="10.4" fill="#000" opacity="0.22" filter="url(#blur)"/>
<circle cx="1023.0" cy="62.2" r="10.4" fill="#191919"/>
<line x1="808.8" y1="62.2" x2="827.1" y2="62.2" stroke="#c8c8c8" stroke-width="1.3" marker-end="url(#ah)" marker-start="url(#at)"/>
<line x1="849.1" y1="62.2" x2="866.0" y2="62.2" stroke="#c8c8c8" stroke-width="1.3" marker-end="url(#ah)" marker-start="url(#at)"/>
<line x1="954.9" y1="62.2" x2="973.0" y2="62.2" stroke="#c8c8c8" stroke-width="1.3" marker-end="url(#ah)" marker-start="url(#at)"/>
<line x1="995.0" y1="62.2" x2="1012.0" y2="62.2" stroke="#c8c8c8" stroke-width="1.3" marker-end="url(#ah)" marker-start="url(#at)"/>
<text x="818.2" y="75.3" font-size="7.85" text-anchor="middle" fill="#111" font-family='"Liberation Sans", sans-serif' font-weight="normal" textLength="21.6" lengthAdjust="spacingAndGlyphs" stroke="#111" stroke-width="0.157" >Similar</text>
<text x="859.1" y="75.3" font-size="7.85" text-anchor="middle" fill="#111" font-family='"Liberation Sans", sans-serif' font-weight="normal" textLength="21.8" lengthAdjust="spacingAndGlyphs" stroke="#111" stroke-width="0.157" >Similar</text>
<text x="963.7" y="75.3" font-size="7.85" text-anchor="middle" fill="#111" font-family='"Liberation Sans", sans-serif' font-weight="normal" textLength="21.8" lengthAdjust="spacingAndGlyphs" stroke="#111" stroke-width="0.157" >Similar</text>
<text x="1006.8" y="75.3" font-size="7.85" text-anchor="middle" fill="#111" font-family='"Liberation Sans", sans-serif' font-weight="normal" textLength="22.1" lengthAdjust="spacingAndGlyphs" stroke="#111" stroke-width="0.157" >Similar</text>
<rect x="850.5" y="109.8" width="115.8" height="28.1" rx="4.5" fill="none" stroke="#333" stroke-width="1.3" stroke-dasharray="1.2 1.6"/>
<circle cx="881.5" cy="124.2" r="10.2" fill="#000" opacity="0.22" filter="url(#blur)"/>
<circle cx="880.7" cy="122.6" r="10.2" fill="#dce2f0"/>
<circle cx="929.4" cy="124.2" r="10.2" fill="#000" opacity="0.22" filter="url(#blur)"/>
<circle cx="928.6" cy="122.6" r="10.2" fill="#aebfdf"/>
<line x1="892.0" y1="122.6" x2="917.0" y2="122.6" stroke="#c8c8c8" stroke-width="1.5" marker-end="url(#ah)" marker-start="url(#at)"/>
<text x="906.2" y="133.6" font-size="6.69" text-anchor="middle" fill="#111" font-family='"Liberation Sans", sans-serif' font-weight="normal" textLength="22.1" lengthAdjust="spacingAndGlyphs" stroke="#111" stroke-width="0.134" >Similar</text>
<text x="880.3" y="146.4" font-size="7.27" text-anchor="middle" fill="#111" font-family='"Liberation Sans", sans-serif' font-weight="normal" textLength="20.6" lengthAdjust="spacingAndGlyphs" stroke="#111" stroke-width="0.145" >Item 1</text>
<text x="933.4" y="146.4" font-size="7.27" text-anchor="middle" fill="#111" font-family='"Liberation Sans", sans-serif' font-weight="normal" textLength="21.2" lengthAdjust="spacingAndGlyphs" stroke="#111" stroke-width="0.145" >Item 2</text>
<line x1="840.2" y1="80.5" x2="908.5" y2="109.3" stroke="#c4c4c4" stroke-width="1.5" marker-end="url(#ah)" marker-start="url(#at)"/>
<line x1="984.0" y1="80.5" x2="910.5" y2="109.3" stroke="#c4c4c4" stroke-width="1.5" marker-end="url(#ah)" marker-start="url(#at)"/>
<line x1="838.1" y1="80.5" x2="838.1" y2="173.6" stroke="#c4c4c4" stroke-width="1.5" marker-end="url(#ah)" marker-start="url(#at)"/>
<line x1="907.2" y1="138.5" x2="839.6" y2="174.0" stroke="#c4c4c4" stroke-width="1.5" marker-end="url(#ah)" marker-start="url(#at)"/>
<line x1="908.5" y1="138.5" x2="978.4" y2="174.4" stroke="#c4c4c4" stroke-width="1.5" marker-end="url(#ah)" marker-start="url(#at)"/>
<text x="890.9" y="97.0" font-size="6.83" text-anchor="middle" fill="#111" font-family='"Liberation Sans", sans-serif' font-weight="normal" textLength="29.7" lengthAdjust="spacingAndGlyphs" stroke="#111" stroke-width="0.137" >Dissimilar</text>
<text x="929.4" y="97.0" font-size="6.83" text-anchor="middle" fill="#111" font-family='"Liberation Sans", sans-serif' font-weight="normal" textLength="30.2" lengthAdjust="spacingAndGlyphs" stroke="#111" stroke-width="0.137" >Dissimilar</text>
<text x="883.3" y="163.6" font-size="7.12" text-anchor="middle" fill="#111" font-family='"Liberation Sans", sans-serif' font-weight="normal" textLength="30.8" lengthAdjust="spacingAndGlyphs" stroke="#111" stroke-width="0.142" >Dissimilar</text>
<text x="930.6" y="163.6" font-size="7.12" text-anchor="middle" fill="#111" font-family='"Liberation Sans", sans-serif' font-weight="normal" textLength="30.7" lengthAdjust="spacingAndGlyphs" stroke="#111" stroke-width="0.142" >Dissimilar</text>
<path d="M790.3,124.6 L803.6,137.8 M803.3,123.9 L790.3,137.6" stroke="#e0382e" stroke-width="1.6" stroke-linecap="round"/>
<text x="815.2" y="127.9" font-size="7.80" text-anchor="middle" fill="#111" font-family='"Liberation Sans", sans-serif' font-weight="normal" textLength="12.2" lengthAdjust="spacingAndGlyphs" stroke="#111" stroke-width="0.156" >Not</text>
<text x="821.4" y="136.8" font-size="7.80" text-anchor="middle" fill="#111" font-family='"Liberation Sans", sans-serif' font-weight="normal" textLength="24.5" lengthAdjust="spacingAndGlyphs" stroke="#111" stroke-width="0.156" >related</text>
<g><g transform="translate(972.8,127.2) rotate(-40)"><rect x="-4" y="-3" width="8" height="6" fill="#fff" stroke="#333" stroke-width="0.8"/><line x1="-4" y1="-0.8" x2="4" y2="-0.8" stroke="#555" stroke-width="0.5"/><line x1="-4" y1="1.2" x2="4" y2="1.2" stroke="#555" stroke-width="0.5"/></g><circle cx="981.8" cy="121.0" r="5.0" fill="#1c1414"/><ellipse cx="979.6" cy="123.8" rx="3.5" ry="3.7" fill="#fff" stroke="#222" stroke-width="0.7"/><line x1="981.8" y1="127.6" x2="982.3" y2="132.6" stroke="#444" stroke-width="0.7"/></g>
<rect x="778.6" y="174.8" width="118.4" height="31.4" rx="4.5" fill="none" stroke="#333" stroke-width="1.3" stroke-dasharray="1.2 1.6"/>
<rect x="923.0" y="174.8" width="115.6" height="31.9" rx="4.5" fill="none" stroke="#333" stroke-width="1.3" stroke-dasharray="1.2 1.6"/>
<circle cx="796.7" cy="191.0" r="10.2" fill="#000" opacity="0.22" filter="url(#blur)"/>
<circle cx="795.9" cy="189.4" r="10.2" fill="#fdf1cf"/>
<circle cx="837.0" cy="191.0" r="10.2" fill="#000" opacity="0.22" filter="url(#blur)"/>
<circle cx="836.2" cy="189.4" r="10.2" fill="#fbe39f"/>
<circle cx="875.7" cy="191.0" r="10.2" fill="#000" opacity="0.22" filter="url(#blur)"/>
<circle cx="874.9" cy="189.4" r="10.2" fill="#f9d56e"/>
<circle cx="940.4" cy="191.0" r="10.2" fill="#000" opacity="0.22" filter="url(#blur)"/>
<circle cx="939.6" cy="189.4" r="10.2" fill="#e1eed9"/>
<circle cx="980.7" cy="191.0" r="10.2" fill="#000" opacity="0.22" filter="url(#blur)"/>
<circle cx="979.9" cy="189.4" r="10.2" fill="#c7e1b5"/>
<circle cx="1019.7" cy="191.0" r="10.2" fill="#000" opacity="0.22" filter="url(#blur)"/>
<circle cx="1018.9" cy="189.4" r="10.2" fill="#a9d18e"/>
<line x1="806.9" y1="189.4" x2="825.2" y2="189.4" stroke="#c8c8c8" stroke-width="1.3" marker-end="url(#ah)" marker-start="url(#at)"/>
<line x1="847.2" y1="189.4" x2="863.9" y2="189.4" stroke="#c8c8c8" stroke-width="1.3" marker-end="url(#ah)" marker-start="url(#at)"/>
<line x1="950.6" y1="189.4" x2="968.9" y2="189.4" stroke="#c8c8c8" stroke-width="1.3" marker-end="url(#ah)" marker-start="url(#at)"/>
<line x1="990.9" y1="189.4" x2="1007.9" y2="189.4" stroke="#c8c8c8" stroke-width="1.3" marker-end="url(#ah)" marker-start="url(#at)"/>
<text x="818.3" y="202.2" font-size="6.69" text-anchor="middle" fill="#111" font-family='"Liberation Sans", sans-serif' font-weight="normal" textLength="22.0" lengthAdjust="spacingAndGlyphs" stroke="#111" stroke-width="0.134" >Similar</text>
<text x="858.5" y="202.2" font-size="6.69" text-anchor="middle" fill="#111" font-family='"Liberation Sans", sans-serif' font-weight="normal" textLength="22.1" lengthAdjust="spacingAndGlyphs" stroke="#111" stroke-width="0.134" >Similar</text>
<text x="959.1" y="202.2" font-size="6.69" text-anchor="middle" fill="#111" font-family='"Liberation Sans", sans-serif' font-weight="normal" textLength="21.8" lengthAdjust="spacingAndGlyphs" stroke="#111" stroke-width="0.134" >Similar</text>
<text x="1000.6" y="202.2" font-size="6.69" text-anchor="middle" fill="#111" font-family='"Liberation Sans", sans-serif' font-weight="normal" textLength="21.8" lengthAdjust="spacingAndGlyphs" stroke="#111" stroke-width="0.134" >Similar</text>
<text x="796.8" y="216.0" font-size="7.41" text-anchor="middle" fill="#111" font-family='"Liberation Sans", sans-serif' font-weight="normal" textLength="21.5" lengthAdjust="spacingAndGlyphs" stroke="#111" stroke-width="0.148" >Item 3</text>
<text x="837.0" y="216.0" font-size="7.41" text-anchor="middle" fill="#111" font-family='"Liberation Sans", sans-serif' font-weight="normal" textLength="21.5" lengthAdjust="spacingAndGlyphs" stroke="#111" stroke-width="0.148" >Item 4</text>
<text x="876.3" y="216.0" font-size="7.41" text-anchor="middle" fill="#111" font-family='"Liberation Sans", sans-serif' font-weight="normal" textLength="21.4" lengthAdjust="spacingAndGlyphs" stroke="#111" stroke-width="0.148" >Item 5</text>
<text x="938.9" y="216.0" font-size="7.41" text-anchor="middle" fill="#111" font-family='"Liberation Sans", sans-serif' font-weight="normal" textLength="21.6" lengthAdjust="spacingAndGlyphs" stroke="#111" stroke-width="0.148" >Item 6</text>
<text x="980.2" y="216.0" font-size="7.41" text-anchor="middle" fill="#111" font-family='"Liberation Sans", sans-serif' font-weight="normal" textLength="21.0" lengthAdjust="spacingAndGlyphs" stroke="#111" stroke-width="0.148" >Item 7</text>
<text x="1019.4" y="216.0" font-size="7.41" text-anchor="middle" fill="#111" font-family='"Liberation Sans", sans-serif' font-weight="normal" textLength="21.2" lengthAdjust="spacingAndGlyphs" stroke="#111" stroke-width="0.148" >Item 8</text>
<g transform="translate(798.6,226.5) scale(0.9888888888888864,1.0)"><ellipse cx="9.4" cy="15" rx="8.5" ry="1" fill="#000" opacity="0.12"/><path d="M1.2,8 C1.2,2.5 4.5,0.2 9,0.2 C13.5,0.2 16.8,2.5 16.8,8 Z" fill="#f0a544" stroke="#b0642a" stroke-width="0.5"/><path d="M0.3,8.2 L17.7,8.2 L17,9.6 L1,9.6 Z" fill="#74b040"/><rect x="1.3" y="9.3" width="15.4" height="1.3" fill="#d8443a"/><rect x="1.4" y="10.4" width="15.2" height="2.2" rx="1" fill="#5a3220"/><rect x="5" y="10.3" width="5" height="1.5" fill="#f2c030"/><path d="M1.5,12.4 L16.5,12.4 C16.5,14.8 14,15.4 9,15.4 C4,15.4 1.5,14.8 1.5,12.4 Z" fill="#d9873a" stroke="#a0582a" stroke-width="0.4"/></g>
<g transform="translate(826.7,228.3) scale(1.0)"><path d="M0,11.6 L-3.6,5.6 C-4.8,3.4 -3.6,0.4 0,0.4 C3.6,0.4 4.8,3.4 3.6,5.6 Z" fill="none" stroke="#333" stroke-width="0.9" stroke-linejoin="round"/><circle cx="0" cy="3.9" r="1.6" fill="none" stroke="#333" stroke-width="0.8"/></g>
<text x="846.0" y="237.8" font-size="8.58" text-anchor="middle" fill="#111" font-family='"Liberation Sans", sans-serif' font-weight="normal" textLength="25.2" lengthAdjust="spacingAndGlyphs" stroke="#111" stroke-width="0.172" >Beijing</text>
<g transform="translate(969,227.8) scale(1.0)"><path d="M0,11.6 L-3.6,5.6 C-4.8,3.4 -3.6,0.4 0,0.4 C3.6,0.4 4.8,3.4 3.6,5.6 Z" fill="none" stroke="#333" stroke-width="0.9" stroke-linejoin="round"/><circle cx="0" cy="3.9" r="1.6" fill="none" stroke="#333" stroke-width="0.8"/></g>
<text x="988.5" y="236.3" font-size="8.58" text-anchor="middle" fill="#111" font-family='"Liberation Sans", sans-serif' font-weight="normal" textLength="25.2" lengthAdjust="spacingAndGlyphs" stroke="#111" stroke-width="0.172" >Beijing</text>
<path d="M1006.6,231 C1006.5,235 1009,238.6 1012.6,238.6 C1016.2,238.6 1018.7,235 1018.6,231 C1014,233 1011,233 1006.6,231 Z" fill="none" stroke="#f0b860" stroke-width="0.9"/>
<path d="M1008.5,233.4 C1011,234.6 1014,234.6 1016.6,233.4" fill="none" stroke="#f0b860" stroke-width="0.6"/>
<line x1="1006.5" y1="226.5" x2="1016" y2="228.8" stroke="#555" stroke-width="0.8"/>
<line x1="1006.5" y1="228.4" x2="1016" y2="229.4" stroke="#666" stroke-width="0.8"/>
<circle cx="1014.6" cy="228.4" r="1.6" fill="#f0b860"/>
<text x="1013.2" y="242.3" font-size="5.60" text-anchor="middle" fill="#222" font-family='"Liberation Sans", sans-serif' font-weight="bold" textLength="16.0" lengthAdjust="spacingAndGlyphs" stroke="#222" stroke-width="0.112" font-style="italic">noodles</text>
<text x="924.2" y="267.0" font-size="11.60" text-anchor="middle" fill="#111" font-family='"Liberation Serif", serif' font-weight="normal" textLength="251.2" lengthAdjust="spacingAndGlyphs" >(b) Core Diagram of Spatially-Constrained Hard Sampling</text>
<path d="M797.0,280.4 H1030.9 A21,25 0 0 1 1051.9,305.4 V428.2 A25,33 0 0 1 1026.9,461.2 H796.0 A20,20 0 0 1 776.0,441.2 V302.4 A21,22 0 0 1 797.0,280.4 Z" fill="none" stroke="#5a5e6e" stroke-width="1.0" stroke-dasharray="3 1.6 1 1.6"/>
<line x1="846.8" y1="302.0" x2="846.8" y2="275.0" stroke="#c4c4c4" stroke-width="1.5" marker-end="url(#ah)"/>
<polygon points="822.5,303.5 873.8,303.5 880.0,329.3 815.7,329.3" fill="#000" opacity="0.15" filter="url(#blur)"/>
<polygon points="821.0,302.0 872.3,302.0 878.5,327.8 814.2,327.8" fill="#fff" stroke="#34488a" stroke-width="1.2" stroke-linejoin="miter"/>
<text x="846.2" y="314.0" font-size="8.00" text-anchor="middle" fill="#111" font-family='"Liberation Sans", sans-serif' font-weight="normal" textLength="31.0" lengthAdjust="spacingAndGlyphs" stroke="#111" stroke-width="0.160" font-style="italic">Calculate</text>
<text x="846.2" y="322.5" font-size="8.00" text-anchor="middle" fill="#111" font-family='"Liberation Sans", sans-serif' font-weight="normal" textLength="32.8" lengthAdjust="spacingAndGlyphs" stroke="#111" stroke-width="0.160" >Similarity</text>
<line x1="846.8" y1="351.5" x2="846.8" y2="328.3" stroke="#c4c4c4" stroke-width="1.5" marker-end="url(#ah)"/>
<polygon points="814.9,353.0 882.1,353.0 887.8,374.8 809.2,374.8" fill="#000" opacity="0.15" filter="url(#blur)"/>
<polygon points="813.4,351.5 880.6,351.5 886.3,373.3 807.7,373.3" fill="#fff" stroke="#34488a" stroke-width="1.2" stroke-linejoin="miter"/>
<text x="846.7" y="361.2" font-size="8.00" text-anchor="middle" fill="#111" font-family='"Liberation Sans", sans-serif' font-weight="normal" textLength="55.4" lengthAdjust="spacingAndGlyphs" stroke="#111" stroke-width="0.160" >Nearest Cluster</text>
<text x="846.7" y="369.7" font-size="8.00" text-anchor="middle" fill="#111" font-family='"Liberation Sans", sans-serif' font-weight="normal" textLength="24.2" lengthAdjust="spacingAndGlyphs" stroke="#111" stroke-width="0.160" >Search</text>
<line x1="846.8" y1="398.0" x2="846.8" y2="373.8" stroke="#c4c4c4" stroke-width="1.5" marker-end="url(#ah)"/>
<rect x="821.3" y="399.6" width="53.4" height="11.8" fill="#000" opacity="0.15" filter="url(#blur)"/>
<rect x="820.10" y="398" width="10.68" height="11.8" fill="#e3ecf0" stroke="#c4d3da" stroke-width="0.8"/>
<rect x="830.78" y="398" width="10.68" height="11.8" fill="#e3ecf0" stroke="#c4d3da" stroke-width="0.8"/>
<rect x="841.46" y="398" width="10.68" height="11.8" fill="#e3ecf0" stroke="#c4d3da" stroke-width="0.8"/>
<rect x="852.14" y="398" width="10.68" height="11.8" fill="#e3ecf0" stroke="#c4d3da" stroke-width="0.8"/>
<rect x="862.82" y="398" width="10.68" height="11.8" fill="#e3ecf0" stroke="#c4d3da" stroke-width="0.8"/>
<line x1="846.8" y1="427.5" x2="846.8" y2="410.2" stroke="#c4c4c4" stroke-width="1.5" marker-end="url(#ah)"/>
<rect x="789.7" y="429.0" width="117.7" height="17.7" rx="0" fill="#000" opacity="0.18" filter="url(#blur)"/>
<rect x="788.2" y="427.5" width="117.7" height="17.7" rx="0" fill="#46a9ec" stroke="#8c7838" stroke-width="1.2"/>
<text x="846.8" y="439.9" font-size="9.45" text-anchor="middle" fill="#0d1f46" font-family='"Liberation Sans", sans-serif' font-weight="normal" textLength="101.2" lengthAdjust="spacingAndGlyphs" stroke="#0d1f46" stroke-width="0.189" ><tspan font-style="italic">Original</tspan>&#160;&#160;ID Embedding</text>
<rect x="971.8" y="400.8" width="54.5" height="12.4" fill="#000" opacity="0.12" filter="url(#blur)"/>
<rect x="970.60" y="399.2" width="10.9" height="12.4" fill="#fdf2d2" stroke="#f3e4b8" stroke-width="0.8"/>
<rect x="981.50" y="399.2" width="10.9" height="12.4" fill="#fdf2d2" stroke="#f3e4b8" stroke-width="0.8"/>
<rect x="992.40" y="399.2" width="10.9" height="12.4" fill="#fdf2d2" stroke="#f3e4b8" stroke-width="0.8"/>
<rect x="1003.30" y="399.2" width="10.9" height="12.4" fill="#fdf2d2" stroke="#f3e4b8" stroke-width="0.8"/>
<rect x="1014.20" y="399.2" width="10.9" height="12.4" fill="#fdf2d2" stroke="#f3e4b8" stroke-width="0.8"/>
<rect x="950.0" y="430.3" width="99.3" height="17.3" rx="0" fill="#000" opacity="0.18" filter="url(#blur)"/>
<rect x="948.5" y="428.8" width="99.3" height="17.3" rx="0" fill="#e9b83e" stroke="#8c7838" stroke-width="1.2"/>
<text x="997.9" y="440.8" font-size="9.01" text-anchor="middle" fill="#111" font-family='"Liberation Sans", sans-serif' font-weight="normal" textLength="81.8" lengthAdjust="spacingAndGlyphs" stroke="#111" stroke-width="0.180" >Item Side Feature</text>
<line x1="998.2" y1="428.8" x2="998.2" y2="412.0" stroke="#c4c4c4" stroke-width="1.5" marker-end="url(#ah)"/>
<line x1="998.2" y1="399.2" x2="998.2" y2="373.9" stroke="#c4c4c4" stroke-width="1.5" marker-end="url(#ah)"/>
<polygon points="961.7,352.9 1038.1,352.9 1043.1,375.0 956.7,375.0" fill="#000" opacity="0.15" filter="url(#blur)"/>
<polygon points="960.2,351.4 1036.6,351.4 1041.6,373.5 955.2,373.5" fill="#fff" stroke="#34488a" stroke-width="1.2" stroke-linejoin="miter"/>
<text x="998.3" y="361.2" font-size="7.80" text-anchor="middle" fill="#111" font-family='"Liberation Sans", sans-serif' font-weight="normal" textLength="55.8" lengthAdjust="spacingAndGlyphs" stroke="#111" stroke-width="0.156" >K-means Update</text>
<text x="998.5" y="370.0" font-size="7.80" text-anchor="middle" fill="#111" font-family='"Liberation Sans", sans-serif' font-weight="normal" textLength="65.0" lengthAdjust="spacingAndGlyphs" stroke="#111" stroke-width="0.156" >Iterative&#160;&#160;Clusters</text>
<line x1="998.2" y1="351.4" x2="998.2" y2="332.5" stroke="#c4c4c4" stroke-width="1.5" marker-end="url(#ah)"/>
<polygon points="897.8,392.4 951.4,392.4 957.3,414.9 892.5,414.9" fill="#000" opacity="0.15" filter="url(#blur)"/>
<polygon points="896.3,390.9 949.9,390.9 955.8,413.4 891.0,413.4" fill="#fff" stroke="#34488a" stroke-width="1.2" stroke-linejoin="miter"/>
<text x="923.4" y="405.4" font-size="7.27" text-anchor="middle" fill="#111" font-family='"Liberation Sans", sans-serif' font-weight="normal" textLength="43.5" lengthAdjust="spacingAndGlyphs" stroke="#111" stroke-width="0.145" >K-means Init</text>
<line x1="922.9" y1="390.9" x2="922.9" y2="362.1" stroke="#c4c4c4" stroke-width="1.5"/>
<line x1="922.9" y1="362.1" x2="884.6" y2="362.1" stroke="#c4c4c4" stroke-width="1.5" marker-end="url(#ah)"/>
<line x1="922.9" y1="362.1" x2="956.5" y2="362.1" stroke="#c4c4c4" stroke-width="1.5" marker-end="url(#ah)"/>
<line x1="974.5" y1="314.1" x2="876.6" y2="314.1" stroke="#c4c4c4" stroke-width="1.5" marker-end="url(#ah)"/>
<path d="M957,362.2 C932,350 928,303 952,298.6 C961,297.5 967,302 969.8,309.5" fill="none" stroke="#555" stroke-width="0.8"/>
<path d="M967.6,309.2 L972.6,309.4 L970.5,313.6 Z" fill="#111"/>
<text x="952.8" y="329.0" font-size="7.10" text-anchor="middle" fill="#111" font-family='"Liberation Sans", sans-serif' font-weight="normal" textLength="27.1" lengthAdjust="spacingAndGlyphs" stroke="#111" stroke-width="0.142" >In-batch</text>
<text x="952.5" y="336.2" font-size="7.10" text-anchor="middle" fill="#111" font-family='"Liberation Sans", sans-serif' font-weight="normal" textLength="20.9" lengthAdjust="spacingAndGlyphs" stroke="#111" stroke-width="0.142" >update</text>
<path d="M974.9,287 L974.9,331.3 L1031,331.3" fill="none" stroke="#000" stroke-width="2.4"/>
<path d="M971.5,289 L974.9,283.8 L978.3,289 Z" fill="#000"/>
<path d="M1030,327.8 L1035.3,331.3 L1030,334.8 Z" fill="#000"/>
<circle cx="981.1" cy="297.8" r="1.9" fill="#999" opacity="0.35"/>
<circle cx="981.1" cy="296.6" r="1.9" fill="#6c2c9c"/>
<circle cx="986.3" cy="298.6" r="1.9" fill="#999" opacity="0.35"/>
<circle cx="986.3" cy="297.4" r="1.9" fill="#6c2c9c"/>
<circle cx="980.6" cy="304.4" r="1.9" fill="#999" opacity="0.35"/>
<circle cx="980.6" cy="303.2" r="1.9" fill="#6c2c9c"/>
<circle cx="985.7" cy="305.3" r="1.9" fill="#999" opacity="0.35"/>
<circle cx="985.7" cy="304.1" r="1.9" fill="#6c2c9c"/>
<circle cx="991.4" cy="303.7" r="1.9" fill="#999" opacity="0.35"/>
<circle cx="991.4" cy="302.5" r="1.9" fill="#6c2c9c"/>
<circle cx="995.7" cy="302.7" r="1.9" fill="#999" opacity="0.35"/>
<circle cx="995.7" cy="301.5" r="1.9" fill="#e2eef4"/>
<circle cx="1000.6" cy="302.7" r="1.9" fill="#999" opacity="0.35"/>
<circle cx="1000.6" cy="301.5" r="1.9" fill="#e2eef4"/>
<circle cx="994.6" cy="309.1" r="1.9" fill="#999" opacity="0.35"/>
<circle cx="994.6" cy="307.9" r="1.9" fill="#e2eef4"/>
<circle cx="1000.1" cy="310.2" r="1.9" fill="#999" opacity="0.35"/>
<circle cx="1000.1" cy="309.0" r="1.9" fill="#e2eef4"/>
<circle cx="1005.7" cy="308.4" r="1.9" fill="#999" opacity="0.35"/>
<circle cx="1005.7" cy="307.2" r="1.9" fill="#e2eef4"/>
<circle cx="1013.3" cy="301.2" r="1.9" fill="#999" opacity="0.35"/>
<circle cx="1013.3" cy="300.0" r="1.9" fill="#d2d2d2"/>
<circle cx="1018.5" cy="301.2" r="1.9" fill="#999" opacity="0.35"/>
<circle cx="1018.5" cy="300.0" r="1.9" fill="#d2d2d2"/>
<circle cx="1012.4" cy="307.5" r="1.9" fill="#999" opacity="0.35"/>
<circle cx="1012.4" cy="306.3" r="1.9" fill="#d2d2d2"/>
<circle cx="1018.3" cy="308.5" r="1.9" fill="#999" opacity="0.35"/>
<circle cx="1018.3" cy="307.3" r="1.9" fill="#d2d2d2"/>
<circle cx="1023.9" cy="306.9" r="1.9" fill="#999" opacity="0.35"/>
<circle cx="1023.9" cy="305.7" r="1.9" fill="#d2d2d2"/>
<circle cx="984.6" cy="317.4" r="1.9" fill="#999" opacity="0.35"/>
<circle cx="984.6" cy="316.2" r="1.9" fill="#98c878"/>
<circle cx="989.6" cy="317.4" r="1.9" fill="#999" opacity="0.35"/>
<circle cx="989.6" cy="316.2" r="1.9" fill="#98c878"/>
<circle cx="983.3" cy="322.7" r="1.9" fill="#999" opacity="0.35"/>
<circle cx="983.3" cy="321.5" r="1.9" fill="#98c878"/>
<circle cx="989.2" cy="324.5" r="1.9" fill="#999" opacity="0.35"/>
<circle cx="989.2" cy="323.3" r="1.9" fill="#98c878"/>
<circle cx="994.9" cy="322.7" r="1.9" fill="#999" opacity="0.35"/>
<circle cx="994.9" cy="321.5" r="1.9" fill="#98c878"/>
<circle cx="1006.9" cy="318.8" r="1.9" fill="#999" opacity="0.35"/>
<circle cx="1006.9" cy="317.6" r="1.9" fill="#f8e3a6"/>
<circle cx="1011.7" cy="318.8" r="1.9" fill="#999" opacity="0.35"/>
<circle cx="1011.7" cy="317.6" r="1.9" fill="#f8e3a6"/>
<circle cx="1005.8" cy="324.5" r="1.9" fill="#999" opacity="0.35"/>
<circle cx="1005.8" cy="323.3" r="1.9" fill="#f8e3a6"/>
<circle cx="1011.3" cy="325.7" r="1.9" fill="#999" opacity="0.35"/>
<circle cx="1011.3" cy="324.5" r="1.9" fill="#f8e3a6"/>
<circle cx="1016.8" cy="323.9" r="1.9" fill="#999" opacity="0.35"/>
<circle cx="1016.8" cy="322.7" r="1.9" fill="#f8e3a6"/>
<text x="928.5" y="476.3" font-size="11.40" text-anchor="middle" fill="#111" font-family='"Liberation Serif", serif' font-weight="normal" textLength="244.5" lengthAdjust="spacingAndGlyphs" >(c) Core Diagram of Dynamic Representation Alignment</text>
<text x="278.0" y="478.5" font-size="11.20" text-anchor="start" fill="#111" font-family='"Liberation Serif", serif' font-weight="normal" textLength="127.6" lengthAdjust="spacingAndGlyphs" >(a) Overall Structure of ReST</text>
</svg>
<div class="cap" style="top:510.00px;letter-spacing:0.280px;width:939.72px;transform:scaleX(1.085);transform-origin:0 0">Figure 2: This figure illustrates the overall structure and key components of the ReST model. Specifically:(a) shows the</div>
<div class="cap" style="top:532.27px;letter-spacing:0.014px;width:939.72px;transform:scaleX(1.085);transform-origin:0 0">architecture of ReST, where the Basic Recommendation Tower can be any recommendation model. In this paper, we adopt DIN</div>
<div class="cap" style="top:554.54px;letter-spacing:0.225px;width:939.72px;transform:scaleX(1.085);transform-origin:0 0">as the ranking backbone. (b) depicts the core concept of spatially-constrained sampling, where prior knowledge is leveraged</div>
<div class="cap" style="top:576.81px;letter-spacing:0.280px;width:939.72px;transform:scaleX(1.085);transform-origin:0 0">to retrieve semantically similar items, and a spatially-constrained hard sampling strategy is applied. For instance, &#8220;Burger</div>
<div class="cap" style="top:599.08px;letter-spacing:0.147px;width:939.72px;transform:scaleX(1.085);transform-origin:0 0">Restaurants&#8221; located in Beijing and Shanghai should not be considered similar due to differences in their target user location</div>
<div class="cap" style="top:621.35px;letter-spacing:0.221px;width:939.72px;transform:scaleX(1.085);transform-origin:0 0">and competing item environments. (c) presents the dynamic representation alignment strategy, which adaptively determines</div>
<div class="cap last" style="top:643.62px;letter-spacing:0.280px;width:939.72px;transform:scaleX(1.085);transform-origin:0 0">the enhancement strength for different ID representations.</div>
</body></html>
